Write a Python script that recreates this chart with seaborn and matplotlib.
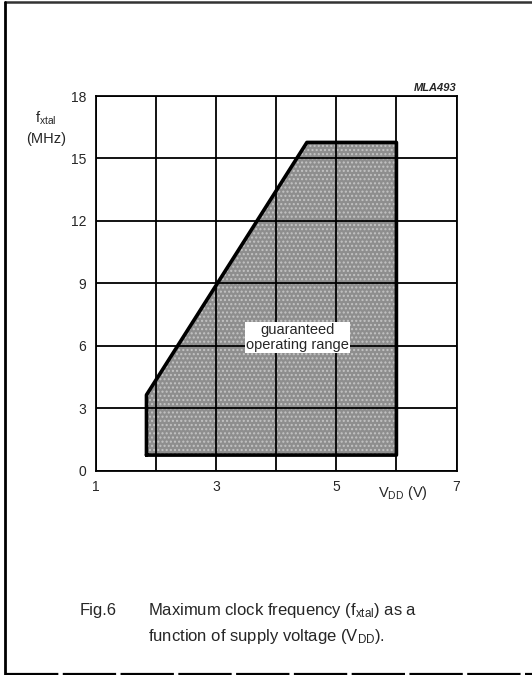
import matplotlib
matplotlib.use("Agg")
import matplotlib.pyplot as plt
import seaborn as sns
import pandas as pd
from matplotlib.lines import Line2D

# Data: boundary of guaranteed operating range
boundary_vdd = [1.84, 1.84, 4.51, 6.0, 6.0]
boundary_fxtal = [0.75, 3.64, 15.77, 15.77, 0.75]
x_ticks = [1, 3, 5, 7]
x_minor = [2, 4, 6]
y_ticks = [0, 3, 6, 9, 12, 15, 18]

sns.set_style("white")
plt.rcParams['font.family'] = ['Liberation Sans', 'DejaVu Sans']
plt.rcParams['mathtext.fontset'] = 'custom'
plt.rcParams['mathtext.rm'] = 'Liberation Sans'
plt.rcParams['mathtext.it'] = 'Liberation Sans:italic'
plt.rcParams['hatch.linewidth'] = 1.0

fig = plt.figure(figsize=(5.32, 6.75), dpi=100)
ax = fig.add_axes([96/532, 1-470.7/675, (456.5-96)/532, (470.7-96)/675])

df = pd.DataFrame({"vdd": boundary_vdd + boundary_vdd[:1],
                   "f": boundary_fxtal + boundary_fxtal[:1]})
ax.fill(boundary_vdd, boundary_fxtal, facecolor="#8e8e8e",
        edgecolor="#c4c4c4", linewidth=0, hatch="....", zorder=0.5)
sns.lineplot(data=df, x="vdd", y="f", sort=False, color="black", lw=2.6,
             ax=ax, zorder=4, estimator=None)

ax.set_xlim(1, 7)
ax.set_ylim(0, 18)
ax.set_xticks(x_ticks)
ax.set_xticks(x_minor, minor=True)
ax.set_yticks(y_ticks)
ax.grid(False)
# grid lines drawn on top of the shaded region
for xv in x_ticks + x_minor:
    ax.axvline(xv, color="black", lw=1.3, zorder=3)
for yv in y_ticks:
    ax.axhline(yv, color="black", lw=1.3, zorder=3)
ax.tick_params(which="both", length=0, labelsize=10, pad=7)
for s in ax.spines.values():
    s.set_color("black")
    s.set_linewidth(1.3)
    s.set_zorder(3)
ax.set_xlabel("")
ax.set_ylabel("")

ax.text(4.35, 6.4, "guaranteed\noperating range", ha="center", va="center",
        fontsize=10.5, linespacing=1.05, zorder=5,
        bbox=dict(facecolor="white", edgecolor="none", pad=0.8))

fig.text(46/532, 1-128/675, "f$_{\\mathrm{xtal}}$\n(MHz)", ha="center",
         va="center", fontsize=10.5, linespacing=1.45)
fig.text(403/532, 1-493/675, "V$_{\\mathrm{DD}}$ (V)", ha="center",
         va="center", fontsize=10.5)
fig.text(457/532, 1-88/675, "MLA493", ha="right", va="center", fontsize=8,
         style="italic", weight="bold")

fig.text(80/532, 1-610/675, "Fig.6", ha="left", va="center", fontsize=12)
fig.text(148/532, 1-610/675,
         "Maximum clock frequency (f$_{\\mathrm{xtal}}$) as a",
         ha="left", va="center", fontsize=12)
fig.text(148/532, 1-637/675,
         "function of supply voltage (V$_{\\mathrm{DD}}$).",
         ha="left", va="center", fontsize=12)

# page frame: top, left and bottom rules
fig.add_artist(Line2D([5/532, 1], [1-2/675, 1-2/675], color="#333333",
                      lw=1.8, transform=fig.transFigure))
fig.add_artist(Line2D([5/532, 5/532], [0, 1-2/675], color="black",
                      lw=2.0, transform=fig.transFigure))
fig.add_artist(Line2D([5/532, 1], [1/675, 1/675], color="black", lw=1.6,
                      linestyle=(0, (24, 2)), transform=fig.transFigure))

fig.savefig("out.png", dpi=100)
